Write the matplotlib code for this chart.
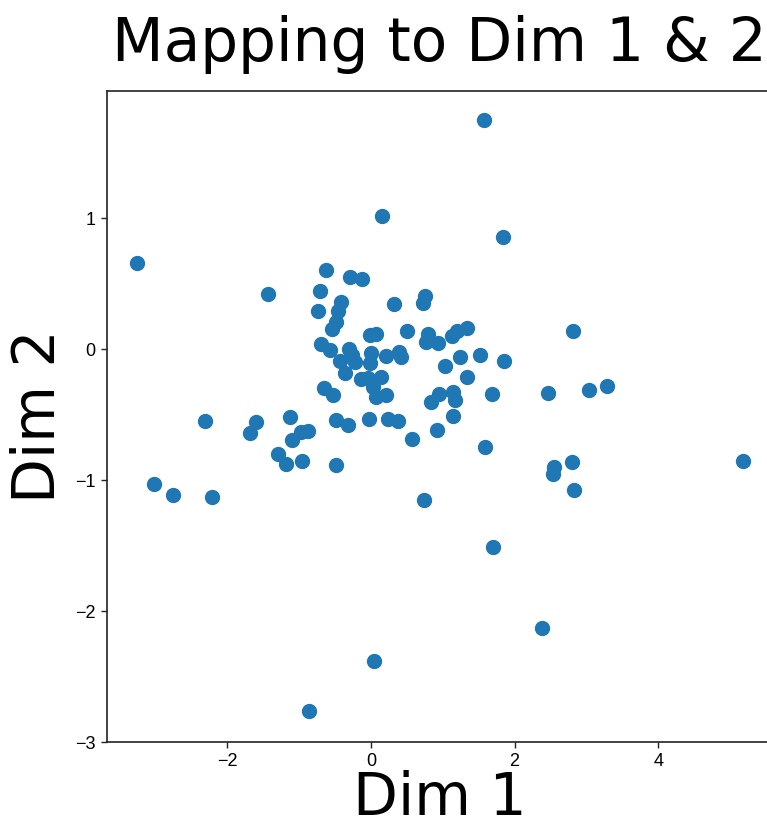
import matplotlib
matplotlib.use("Agg")
import matplotlib.pyplot as plt

# coordinates of each sample on the first two dimensions
dim1 = [1.573, 0.153, 1.838, -3.258, -0.631, -0.297, -0.125, -0.714, -1.434, 0.748,
        0.724, -0.422, 0.320, -0.738, -0.464, -0.491, -0.547, 0.505, -0.010, 0.074,
        0.798, 0.773, 0.937, 1.130, 1.201, 1.332, 2.816, -0.696, -0.571, -0.306,
        -0.425, -0.265, -0.216, -0.003, -0.007, 0.205, 0.390, 0.415, 1.027, 1.246,
        1.515, 1.852, -0.355, -0.132, -0.038, 0.146, 0.028, 0.070, 0.213, 1.332,
        -0.654, -0.529, 0.831, 0.947, 1.142, 1.169, 1.680, 2.468, 3.035, 3.281,
        1.142, -1.132, -0.480, -0.320, -0.025, 0.241, 0.380, 0.916, 0.575, 1.587,
        -2.315, -1.605, -1.685, -0.979, -0.873, -1.104, -1.291, -1.179, -0.956, -0.483,
        -3.021, -2.752, -2.209, 2.798, 2.548, 2.534, 2.826, 5.179, 0.738, 1.698,
        2.381, 0.042, -0.863]
dim2 = [1.750, 1.015, 0.855, 0.663, 0.608, 0.556, 0.539, 0.444, 0.419, 0.409,
        0.352, 0.360, 0.345, 0.296, 0.294, 0.207, 0.156, 0.140, 0.111, 0.118,
        0.119, 0.059, 0.046, 0.101, 0.141, 0.166, 0.143, 0.040, -0.006, 0.006,
        -0.090, -0.040, -0.094, -0.025, -0.105, -0.048, -0.023, -0.059, -0.124, -0.059,
        -0.042, -0.090, -0.182, -0.224, -0.216, -0.208, -0.289, -0.367, -0.346, -0.208,
        -0.296, -0.348, -0.402, -0.337, -0.323, -0.387, -0.338, -0.336, -0.310, -0.277,
        -0.507, -0.514, -0.536, -0.577, -0.535, -0.530, -0.550, -0.618, -0.685, -0.744,
        -0.550, -0.553, -0.642, -0.634, -0.627, -0.693, -0.800, -0.876, -0.851, -0.884,
        -1.029, -1.111, -1.124, -0.858, -0.897, -0.951, -1.073, -0.851, -1.149, -1.509,
        -2.128, -2.381, -2.763]

fig = plt.figure(figsize=(7.67, 8.35), dpi=100)
ax = fig.add_axes([0.139, 0.111, 0.869, 0.7805])

ax.scatter(dim1, dim2, s=100, color="#1f77b4")

ax.set_title("Mapping to Dim 1 & 2", fontsize=43, pad=21, family="DejaVu Sans")
ax.set_xlabel("Dim 1", fontsize=42, family="DejaVu Sans", labelpad=0)
ax.set_ylabel("Dim 2", fontsize=42, family="DejaVu Sans", labelpad=6)

ax.set_xticks([-2, 0, 2, 4])
ax.set_yticks([-3, -2, -1, 0, 1])
for lab in ax.get_xticklabels() + ax.get_yticklabels():
    lab.set_family("Liberation Sans")
    lab.set_fontsize(13)
ax.tick_params(length=4.5, width=1.0, color="#222222")
for sp in ax.spines.values():
    sp.set_linewidth(1.2)
    sp.set_color("#222222")

fig.savefig("out.png", dpi=100)
